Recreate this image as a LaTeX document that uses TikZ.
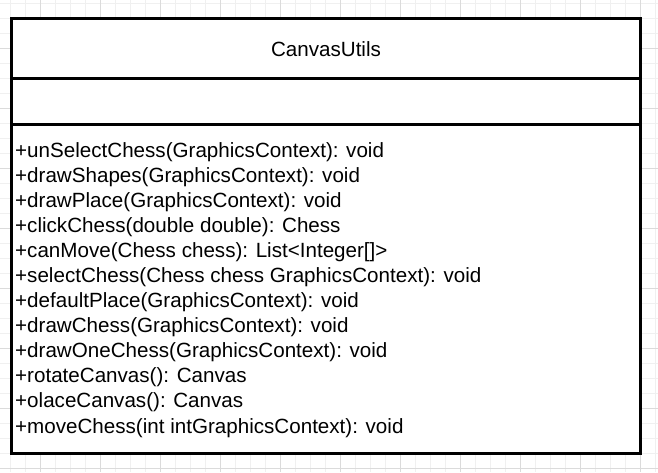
\documentclass[tikz,border=0pt]{standalone}
\usepackage{fontspec}
\setmainfont{Liberation Sans}
\begin{document}
\begin{tikzpicture}[x=1pt, y=-1pt,
    minorline/.style={draw=black!6, line width=0.8pt},
    majorline/.style={draw=black!14, line width=0.8pt},
    classbox/.style={draw, line width=3pt},
    method/.style={anchor=west, inner sep=0pt, font=\fontsize{20.6}{24}\selectfont, text height=15pt, text depth=4.5pt}]
  \useasboundingbox (0, 0) rectangle (658, 472);
  \fill [white] (0, 0) rectangle (658, 472);
  % grid
  \foreach \x in {10, 25, ..., 655} \draw [minorline] (\x, 0) -- (\x, 472);
  \foreach \y in {3, 18, ..., 470} \draw [minorline] (0, \y) -- (658, \y);
  \foreach \x in {40, 100, ..., 640} \draw [majorline] (\x, 0) -- (\x, 472);
  \foreach \y in {48, 108, ..., 470} \draw [majorline] (0, \y) -- (658, \y);
  % class
  \fill [white] (11.5, 18.5) rectangle (640.5, 453);
  \coordinate (tl) at (11.5, 18.5);
  \coordinate (br) at (640.5, 453);
  \draw [classbox] (tl) rectangle (br);
  \draw [classbox] (11.5, 78) -- (640.5, 78);
  \draw [classbox] (11.5, 124) -- (640.5, 124);
  \node [font=\fontsize{20.6}{24}\selectfont] (title) at (326, 49) {CanvasUtils};
  \node [method] (m1) at (15, 152) {+unSelectChess(GraphicsContext): void};
  \node [method] (m2) at (15, 177) {+drawShapes(GraphicsContext): void};
  \node [method] (m3) at (15, 202) {+drawPlace(GraphicsContext): void};
  \node [method] (m4) at (15, 227) {+clickChess(double double): Chess};
  \node [method] (m5) at (15, 252) {+canMove(Chess chess): List<Integer[]>};
  \node [method] (m6) at (15, 277) {+selectChess(Chess chess GraphicsContext): void};
  \node [method] (m7) at (15, 302) {+defaultPlace(GraphicsContext): void};
  \node [method] (m8) at (15, 327) {+drawChess(GraphicsContext): void};
  \node [method] (m9) at (15, 352) {+drawOneChess(GraphicsContext): void};
  \node [method] (m10) at (15, 377) {+rotateCanvas(): Canvas};
  \node [method] (m11) at (15, 402) {+olaceCanvas(): Canvas};
  \node [method] (m12) at (15, 428) {+moveChess(int intGraphicsContext): void};
\end{tikzpicture}
\end{document}
